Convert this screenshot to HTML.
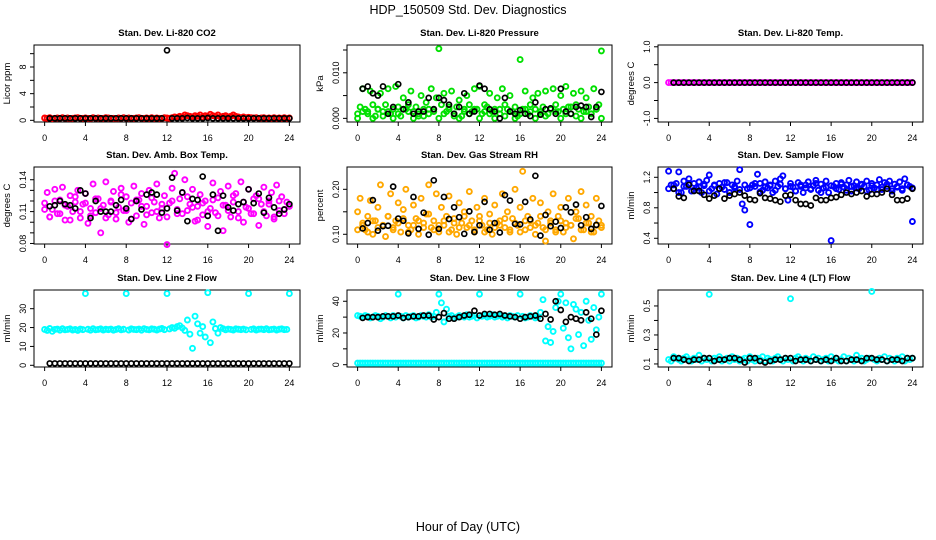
<!DOCTYPE html>
<html><head><meta charset="utf-8"><style>
body{margin:0;background:#fff;}
svg{display:block;font-family:"Liberation Sans",Arial,sans-serif;}
</style></head><body>
<svg id="chart" width="936" height="540" viewBox="0 0 936 540" xmlns="http://www.w3.org/2000/svg">
<text x="468" y="14" text-anchor="middle" font-size="12.5">HDP_150509  Std. Dev. Diagnostics</text>
<text x="468" y="531" text-anchor="middle" font-size="12.5">Hour of Day (UTC)</text>
</svg>
<script>
const xTicks=[0,4,8,12,16,20,24];
const co2Red=[0.35,0.3,0.4,0.25,0.3,0.35,0.3,0.4,0.3,0.35,0.25,0.3,0.35,0.4,0.3,0.3,0.35,0.3,0.25,0.4,0.3,0.35,0.3,0.3,0.4,0.35,0.3,0.3,0.25,0.35,0.3,0.4,0.3,0.35,0.3,0.3,0.35,0.4,0.3,0.3,0.35,0.3,0.4,0.3,0.35,0.3,0.3,0.4,0.35,0.3,0.4,0.5,0.45,0.6,0.5,0.8,0.7,0.6,0.5,0.7,0.6,0.8,0.5,0.7,0.6,0.9,0.7,0.6,0.8,0.5,0.6,0.7,0.5,0.6,0.8,0.6,0.5,0.4,0.5,0.4,0.45,0.4,0.35,0.4,0.3,0.35,0.4,0.3,0.35,0.3,0.4,0.3,0.35,0.3,0.4,0.3,0.35];
const co2Black=[0.3,0.3,0.3,0.3,0.3,0.3,0.3,0.3,0.3,0.3,0.3,0.3,0.3,0.3,0.3,0.3,0.3,0.3,0.3,0.3,0.3,0.3,0.3,10.5,0.3,0.3,0.3,0.35,0.3,0.3,0.3,0.35,0.3,0.3,0.3,0.3,0.3,0.3,0.3,0.3,0.3,0.3,0.3,0.3,0.3,0.3,0.3,0.3];
const presGreenA=[0.001,0.0025,0.0065,0.002,0.0015,0.006,0.003,0.0005,0.002,0.0055,0.0015,0.003,0.0065,0.001,0.002,0.007,0.0025,0.0005,0.0045,0.002,0.003,0.006,0.0015,0.0025,0.0005,0.005,0.002,0.0035,0.001,0.0065,0.002,0.0045,0.0153,0.003,0.0055,0.0015,0.002,0.006,0.001,0.0025,0.004,0.0005,0.002,0.005,0.003,0.0015,0.0065,0.002,0.007,0.001,0.003,0.0025,0.0055,0.0015,0.002,0.0045,0.001,0.0065,0.003,0.002,0.005,0.0015,0.0025,0.0005,0.0129,0.002,0.006,0.001,0.003,0.0045,0.002,0.0055,0.0015,0.0025,0.006,0.001,0.002,0.0065,0.003,0.0015,0.005,0.002,0.007,0.0025,0.001,0.0055,0.003,0.002,0.006,0.0015,0.0045,0.0025,0.001,0.0065,0.002,0.003,0.0148];
const presGreenB=[0,0.0015,0.001,0,0.002,0.0005,0.0015,0,0.001,0.002,0.0015,0,0.001,0.0005,0.002,0.0015,0,0.001,0.0025,0.0005,0,0.0015,0.001,0.002,0,0.0015,0.001,0,0.002,0.0005,0.0015,0,0.001,0.002,0.0015,0,0.001,0.0005,0.002,0.0015,0,0.001,0.0025,0.0005,0,0.0015,0.001,0.002,0];
const presBlack=[0.0065,0.007,0.0055,0.005,0.007,0.001,0.0025,0.0075,0.002,0.0035,0.001,0.0015,0.0015,0.0045,0.002,0.0045,0.004,0.003,0.001,0.0025,0.0055,0.001,0.0015,0.0072,0.0065,0.002,0.0015,0,0.0045,0.0015,0.001,0.0018,0.001,0.0005,0.0035,0.0008,0.002,0.0022,0.001,0.0065,0.0015,0.001,0.0025,0.0028,0.0025,0.0003,0.0025,0.0058];
const tempMagenta=[0,0,0,0,0,0,0,0,0,0,0,0,0,0,0,0,0,0,0,0,0,0,0,0,0,0,0,0,0,0,0,0,0,0,0,0,0,0,0,0,0,0,0,0,0,0,0,0,0,0,0,0,0,0,0,0,0,0,0,0,0,0,0,0,0,0,0,0,0,0,0,0,0,0,0,0,0,0,0,0,0,0,0,0,0,0,0,0,0,0,0,0,0,0,0,0,0];
const tempBlack=[0,0,0,0,0,0,0,0,0,0,0,0,0,0,0,0,0,0,0,0,0,0,0,0,0,0,0,0,0,0,0,0,0,0,0,0,0,0,0,0,0,0,0,0,0,0,0,0];
const ambMagentaA=[0.118,0.128,0.105,0.112,0.131,0.108,0.121,0.133,0.102,0.115,0.125,0.11,0.119,0.13,0.104,0.117,0.127,0.099,0.113,0.136,0.109,0.122,0.09,0.116,0.138,0.107,0.12,0.129,0.103,0.114,0.132,0.111,0.124,0.1,0.118,0.134,0.106,0.121,0.127,0.098,0.115,0.13,0.109,0.119,0.136,0.104,0.113,0.125,0.079,0.118,0.132,0.146,0.108,0.122,0.128,0.14,0.111,0.117,0.131,0.101,0.115,0.126,0.107,0.12,0.096,0.113,0.137,0.109,0.123,0.129,0.092,0.116,0.134,0.105,0.119,0.127,0.11,0.138,0.1,0.114,0.131,0.108,0.122,0.125,0.097,0.117,0.133,0.106,0.12,0.128,0.103,0.135,0.111,0.124,0.108,0.119,0.115];
const ambMagentaB=[0.112,0.105,0.12,0.108,0.116,0.102,0.124,0.11,0.118,0.106,0.122,0.113,0.104,0.119,0.109,0.126,0.111,0.103,0.121,0.115,0.107,0.123,0.11,0.117,0.105,0.12,0.112,0.108,0.124,0.114,0.102,0.118,0.11,0.121,0.106,0.116,0.111,0.125,0.104,0.119,0.113,0.108,0.122,0.11,0.117,0.105,0.12,0.112,0.115];
const ambBlack=[0.115,0.116,0.12,0.117,0.116,0.113,0.13,0.127,0.104,0.12,0.11,0.11,0.11,0.116,0.121,0.113,0.103,0.12,0.112,0.126,0.128,0.126,0.109,0.113,0.142,0.111,0.128,0.101,0.122,0.121,0.143,0.106,0.126,0.092,0.125,0.114,0.111,0.117,0.119,0.131,0.118,0.127,0.109,0.123,0.114,0.108,0.112,0.117];
const rhOrangeA=[0.15,0.18,0.12,0.11,0.14,0.175,0.1,0.13,0.16,0.21,0.12,0.095,0.14,0.19,0.115,0.13,0.17,0.105,0.155,0.2,0.12,0.11,0.165,0.135,0.1,0.18,0.125,0.145,0.21,0.115,0.13,0.19,0.105,0.16,0.12,0.14,0.185,0.11,0.135,0.1,0.17,0.125,0.15,0.115,0.195,0.13,0.105,0.16,0.14,0.12,0.18,0.11,0.145,0.1,0.165,0.125,0.13,0.19,0.115,0.15,0.105,0.135,0.2,0.12,0.16,0.24,0.11,0.14,0.13,0.18,0.1,0.125,0.17,0.115,0.085,0.15,0.13,0.19,0.11,0.14,0.16,0.105,0.125,0.18,0.12,0.09,0.15,0.135,0.195,0.11,0.165,0.125,0.14,0.105,0.18,0.13,0.12];
const rhOrangeB=[0.11,0.125,0.105,0.13,0.115,0.12,0.14,0.11,0.125,0.135,0.105,0.12,0.13,0.115,0.145,0.11,0.12,0.13,0.105,0.125,0.115,0.14,0.12,0.11,0.13,0.105,0.125,0.115,0.12,0.135,0.11,0.125,0.105,0.13,0.115,0.12,0.14,0.11,0.125,0.105,0.13,0.115,0.12,0.135,0.11,0.125,0.105,0.12,0.115];
const rhBlack=[0.113,0.125,0.176,0.108,0.118,0.119,0.206,0.135,0.13,0.102,0.183,0.112,0.148,0.099,0.22,0.112,0.183,0.134,0.16,0.138,0.101,0.151,0.105,0.12,0.172,0.11,0.125,0.104,0.187,0.175,0.123,0.122,0.172,0.133,0.23,0.097,0.143,0.118,0.128,0.114,0.16,0.149,0.166,0.12,0.138,0.112,0.121,0.163];
const flowBlueA=[1.28,1.1,1.05,1.12,1.27,1.0,1.15,1.08,1.18,1.02,1.12,1.06,1.14,1.0,1.09,1.16,1.23,1.05,1.1,0.98,1.12,1.07,1.04,1.13,1.0,1.1,1.06,1.15,1.3,0.85,0.77,1.05,0.58,1.1,1.08,1.24,1.12,1.03,1.14,1.06,1.1,1.0,1.15,1.08,1.18,1.22,1.05,0.9,1.12,1.07,1.02,1.13,1.08,1.0,1.1,1.14,1.05,1.09,1.16,1.03,1.11,1.06,1.15,1.0,0.37,1.08,1.12,1.04,1.13,1.07,1.1,1.16,1.02,1.09,1.14,1.05,1.11,1.08,1.15,1.03,1.12,1.06,1.1,1.17,1.04,1.13,1.08,1.15,1.02,1.11,1.07,1.14,1.05,1.18,1.1,1.08,0.62];
const flowBlueB=[1.05,1.1,1.0,1.08,1.12,1.03,1.07,1.11,1.02,1.09,1.05,1.13,1.0,1.08,1.04,1.1,1.06,1.12,1.01,1.07,1.09,1.03,1.11,1.05,1.08,1.02,1.1,1.06,1.04,1.12,1.0,1.07,1.09,1.05,1.11,1.03,1.08,1.06,1.1,1.02,1.09,1.04,1.07,1.11,1.05,1.08,1.03,1.1,1.06];
const flowBlack=[1.05,0.95,0.93,1.1,1.02,1.02,0.97,0.92,0.96,1.05,0.92,0.96,0.98,1.0,0.96,0.91,0.9,0.99,0.93,0.92,0.9,0.88,0.96,0.97,0.9,0.85,0.85,0.83,0.93,0.9,0.9,0.93,0.94,0.97,1.0,0.98,1.0,1.02,0.95,0.98,0.98,1.0,1.05,0.97,0.9,0.9,0.92,1.05];
const line2Cyan=[19,18.5,19.5,18,19,19.2,18.6,19.4,18.8,19,19.3,18.7,19,18.5,19.2,18.9,38,19.1,18.6,19.4,18.8,19,19.3,18.7,19.1,18.9,19.2,18.6,19,19.4,18.8,19.1,38,18.7,19.3,19,18.9,19.2,18.6,19.4,19,18.8,19.3,19.1,18.7,19.2,19.5,18.9,38,19.3,20,19.6,20.5,21,19.8,18.5,24,16.5,9,26,22,17,20.5,15,38.5,12,23,19.5,17,20,19.4,18.8,19.2,19,18.7,19.3,19.1,18.9,19.2,18.8,38,19,19.3,18.7,19.1,19.2,18.9,19.4,18.8,19,19.2,18.7,19.1,19.3,18.9,19,38];
const line2Black=[1,1,1,1,1,1,1,1,1,1,1,1,1,1,1,1,1,1,1,1,1,1,1,1,1,1,1,1,1,1,1,1,1,1,1,1,1,1,1,1,1,1,1,1,1,1,1,1];
const line3CyanA=[31,30.5,30,31,30.5,29.5,30,31,30.5,29,30,31,30.5,29.5,31,30,44.5,30.5,29.5,31,30,30.5,31,29.5,30,31,30.5,30,31.5,30,30.5,33,44.5,39,27,35,30.5,31,29.5,30,31,30.5,30,31.5,30,30.5,31,29.5,44.5,30.5,31,30,30.5,31.5,30,30.5,31,30,30.5,29.5,31,30.5,30,31,44.5,30.5,29.5,30,31,30.5,29.5,30,33,41,15,24,14,21,36,40,44.5,23,39,17,10,38,35,19,33,12,40,28,16,36,22,30,44.5];
const line3CyanB=[1,1,1,1,1,1,1,1,1,1,1,1,1,1,1,1,1,1,1,1,1,1,1,1,1,1,1,1,1,1,1,1,1,1,1,1,1,1,1,1,1,1,1,1,1,1,1,1,1,1,1,1,1,1,1,1,1,1,1,1,1,1,1,1,1,1,1,1,1,1,1,1,1,1,1,1,1,1,1,1,1,1,1,1,1,1,1,1,1,1,1,1,1,1,1,1,1];
const line3Black=[29.5,30,30,30,30.5,30.5,30.5,31,29.5,30,30.5,30.5,31,31,28.5,30,32.5,29,29,30,31,31.5,34,31,32,32,31.5,32,31,30.5,30,29,30,30.5,31,29,32,28.5,40,34.5,27,30,29,28,33,29,19,34];
const line4Cyan=[0.13,0.12,0.15,0.14,0.13,0.12,0.14,0.15,0.13,0.12,0.14,0.13,0.16,0.12,0.14,0.13,0.58,0.12,0.14,0.13,0.15,0.12,0.13,0.14,0.12,0.15,0.13,0.14,0.12,0.13,0.14,0.12,0.15,0.13,0.12,0.14,0.13,0.15,0.12,0.14,0.13,0.12,0.14,0.15,0.13,0.12,0.14,0.13,0.55,0.12,0.14,0.15,0.13,0.12,0.14,0.13,0.12,0.15,0.13,0.14,0.12,0.13,0.14,0.12,0.15,0.13,0.14,0.12,0.13,0.15,0.12,0.14,0.13,0.12,0.16,0.13,0.14,0.12,0.13,0.14,0.6,0.13,0.12,0.14,0.13,0.15,0.12,0.14,0.13,0.12,0.14,0.13,0.15,0.12,0.14,0.13,0.14];
const line4Black=[0.14,0.14,0.13,0.12,0.13,0.13,0.14,0.14,0.12,0.13,0.13,0.14,0.14,0.13,0.11,0.14,0.14,0.12,0.11,0.12,0.13,0.13,0.14,0.14,0.12,0.13,0.13,0.12,0.13,0.12,0.13,0.12,0.14,0.12,0.12,0.13,0.13,0.12,0.14,0.14,0.13,0.13,0.12,0.13,0.13,0.12,0.14,0.14];

const cols=[[34,300],[347,612],[658,923]];
const rows=[[45,122],[167,244],[290,367]];
const panels=[
 {name:'co2',title:'Stan. Dev. Li-820 CO2',ylab:'Licor ppm',ylim:[-0.25,11.3],ticks:[0,2,4,6,8,10],labels:[0,4,8],fmt:v=>String(v),series:[[co2Red,'#ff0000',0],[co2Black,'#000',1]]},
 {name:'pressure',title:'Stan. Dev. Li-820 Pressure',ylab:'kPa',ylim:[-0.0008,0.0161],ticks:[0,0.005,0.01,0.015],labels:[0,0.01],fmt:v=>v.toFixed(3),series:[[presGreenA,'#00e000',0],[presGreenB,'#00e000',0],[presBlack,'#000',1]]},
 {name:'temp',title:'Stan. Dev. Li-820 Temp.',ylab:'degrees C',ylim:[-1.1,1.05],ticks:[-1,-0.5,0,0.5,1],labels:[-1,0,1],fmt:v=>v.toFixed(1),series:[[tempMagenta,'#ff00ff',0],[tempBlack,'#000',1]]},
 {name:'amb-box',title:'Stan. Dev. Amb. Box Temp.',ylab:'degrees C',ylim:[0.0795,0.152],ticks:[0.08,0.09,0.1,0.11,0.12,0.13,0.14],labels:[0.08,0.11,0.14],fmt:v=>v.toFixed(2),series:[[ambMagentaA,'#ff00ff',0],[ambMagentaB,'#ff00ff',0],[ambBlack,'#000',1]]},
 {name:'rh',title:'Stan. Dev. Gas Stream RH',ylab:'percent',ylim:[0.0784,0.2496],ticks:[0.1,0.15,0.2],labels:[0.1,0.2],fmt:v=>v.toFixed(2),series:[[rhOrangeA,'#ffa800',0],[rhOrangeB,'#ffa800',0],[rhBlack,'#000',1]]},
 {name:'sample-flow',title:'Stan. Dev. Sample Flow',ylab:'ml/min',ylim:[0.325,1.335],ticks:[0.4,0.6,0.8,1.0,1.2],labels:[0.4,0.8,1.2],fmt:v=>v.toFixed(1),series:[[flowBlueA,'#0000ff',0],[flowBlueB,'#0000ff',0],[flowBlack,'#000',1]]},
 {name:'line2-flow',title:'Stan. Dev. Line 2 Flow',ylab:'ml/min',ylim:[-0.9,39.9],ticks:[0,10,20,30],labels:[0,10,20,30],fmt:v=>String(v),series:[[line2Cyan,'#00ffff',0],[line2Black,'#000',1]]},
 {name:'line3-flow',title:'Stan. Dev. Line 3 Flow',ylab:'ml/min',ylim:[-1.45,47.1],ticks:[0,10,20,30,40],labels:[0,20,40],fmt:v=>String(v),series:[[line3CyanA,'#00ffff',0],[line3CyanB,'#00ffff',0],[line3Black,'#000',1]]},
 {name:'line4-flow',title:'Stan. Dev. Line 4 (LT) Flow',ylab:'ml/min',ylim:[0.079,0.61],ticks:[0.1,0.2,0.3,0.4,0.5],labels:[0.1,0.3,0.5],fmt:v=>v.toFixed(1),series:[[line4Cyan,'#00ffff',0],[line4Black,'#000',1]]}
];
const NS='http://www.w3.org/2000/svg';
const svg=document.getElementById('chart');
function mk(tag,attrs,parent,txt){const e=document.createElementNS(NS,tag);for(const k in attrs)e.setAttribute(k,attrs[k]);if(txt!==undefined)e.textContent=txt;parent.appendChild(e);return e;}
panels.forEach((p,pi)=>{
 const [L,R]=cols[pi%3],[T,B]=rows[Math.floor(pi/3)];
 const g=mk('g',{},svg);
 
 
 const w=R-L;
 const xs=v=>L+w*0.04+v/24*(w*0.92);
 const ys=v=>B-(v-p.ylim[0])/(p.ylim[1]-p.ylim[0])*(B-T);
 const t=mk('text',{x:(L+R)/2,y:T-9,'text-anchor':'middle','font-size':9.5,'font-weight':'bold'},g,p.title);
 
 
 const box=mk('rect',{x:L,y:T,width:w,height:B-T,fill:'none',stroke:'#000','stroke-width':1},g);
 
 
 const xa=mk('g',{},g);
 
 
 mk('line',{x1:xs(0),x2:xs(24),y1:B,y2:B,stroke:'#000'},xa);
 xTicks.forEach(v=>{mk('line',{x1:xs(v),x2:xs(v),y1:B,y2:B+4,stroke:'#000'},xa);
  const tl=mk('text',{x:xs(v),y:B+19,'text-anchor':'middle','font-size':9},xa,String(v));
  
  });
 const ya=mk('g',{},g);
 
 
 mk('line',{x1:L,x2:L,y1:ys(p.ticks[0]),y2:ys(p.ticks[p.ticks.length-1]),stroke:'#000'},ya);
 p.ticks.forEach(v=>{mk('line',{x1:L-4,x2:L,y1:ys(v),y2:ys(v),stroke:'#000'},ya);});
 p.labels.forEach(v=>{const yy=ys(v);
  const tl=mk('text',{x:L-8,y:yy,'text-anchor':'middle','font-size':9,transform:`rotate(-90 ${L-8} ${yy})`},ya,p.fmt(v));
  
  });
 const yt=mk('text',{x:L-24,y:(T+B)/2,'text-anchor':'middle','font-size':9.5,transform:`rotate(-90 ${L-24} ${(T+B)/2})`},g,p.ylab);
 
 
 p.series.forEach(([arr,color,isBlack])=>{
  const sg=mk('g',{fill:'none',stroke:color,'stroke-width':isBlack?1.7:1.9},g);
  
  
  arr.forEach((v,i)=>{
   const x=isBlack?0.5+i*0.5:i*24/(arr.length-1);
   const c=mk('circle',{cx:xs(x),cy:ys(v),r:2.5},sg);
   
   
  });
 });
});
</script>
</body></html>
